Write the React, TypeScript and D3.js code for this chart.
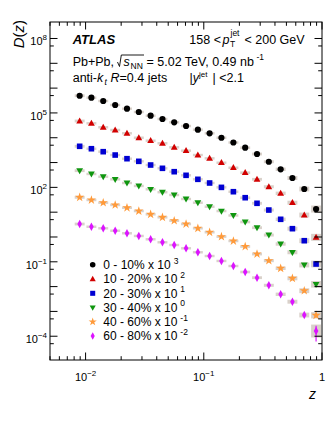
import React from "react";
import * as d3 from "d3";

// ---------- data ----------
const zValues = [0.00891, 0.0112, 0.0141, 0.0178, 0.0224, 0.0282, 0.0355, 0.0447, 0.0562, 0.0708, 0.0891, 0.112, 0.141, 0.178, 0.224, 0.282, 0.355, 0.447, 0.562, 0.708, 0.891];

const cent0to10 = [494, 411, 303, 209, 148, 109, 77.3, 56.9, 41.9, 29.7, 21.1, 15.1, 10.0, 6.43, 3.97, 2.21, 1.08, 0.535, 0.238, 0.0859, 0.0134];
const cent10to20 = [473, 382, 264, 205, 151, 100, 76.0, 59.7, 41.2, 30.1, 20.1, 14.8, 9.86, 6.19, 3.9, 2.11, 1.06, 0.577, 0.241, 0.0769, 0.0097];
const cent20to30 = [452, 361, 274, 201, 143, 112, 79.6, 58.6, 42.8, 30.6, 21.1, 15.0, 10.0, 6.68, 3.83, 2.28, 1.22, 0.516, 0.216, 0.0708, 0.00815];
const cent30to40 = [470, 346, 269, 211, 150, 114, 83.6, 63.8, 49.2, 34.0, 24.1, 16.6, 11.1, 7.35, 4.02, 2.37, 1.2, 0.521, 0.242, 0.0743, 0.0124];
const cent40to60 = [397, 310, 241, 195, 151, 111, 82.0, 62.1, 45.3, 33.3, 22.4, 15.5, 10.3, 6.89, 4.13, 2.06, 1.11, 0.547, 0.216, 0.0684, 0.00697];
const cent60to80 = [333, 259, 224, 179, 141, 110, 80.7, 61.1, 47.5, 35.0, 24.2, 17.1, 10.8, 6.76, 3.88, 2.29, 1.13, 0.49, 0.246, 0.0716, 0.0162];

const centralityLabels = ["0 - 10%", "10 - 20%", "20 - 30%", "30 - 40%", "40 - 60%", "60 - 80%"];
const scaleExponents = [3, 2, 1, 0, -1, -2];

// relative systematic uncertainty per z bin, and for the last bin of each series
const sysRel = [0.14, 0.12, 0.12, 0.12, 0.12, 0.12, 0.12, 0.12, 0.12, 0.12, 0.12, 0.12, 0.12, 0.12, 0.13, 0.14, 0.15, 0.17, 0.2, 0.25, 0.4];
const lastSysRel = [0.38, 0.38, 0.36, 0.36, 0.34, 0.82];
const lastStatRel = [0.06, 0.1, 0.12, 0.14, 0.18, 0.62];

const xTickLabels = [
  { v: 0.01, base: "10", exp: "\u22122" },
  { v: 0.1, base: "10", exp: "\u22121" },
  { v: 1, base: "1", exp: "" },
];
const yLabelExponents = [8, 5, 2, -1, -4];

// ---------- style ----------
const FONT = "'Liberation Sans', Arial, Helvetica, sans-serif";
const colors = ["#000000", "#d20000", "#0000d2", "#0f960f", "#ff9a3a", "#dc14ff"];
const shapes = ["circle", "triangle", "square", "triangleDown", "star", "diamond"];

const W = 332;
const H = 430;
const L = 50, R = 322, T = 22, B = 360;

function markerPath(shape: string, s: number): string {
  switch (shape) {
    case "circle":
      return d3.symbol(d3.symbolCircle, 30 * s * s)()!;
    case "triangle":
      return `M0,${-3.6 * s}L${3.4 * s},${2.4 * s}L${-3.4 * s},${2.4 * s}Z`;
    case "square":
      return `M${-2.8 * s},${-2.8 * s}H${2.8 * s}V${2.8 * s}H${-2.8 * s}Z`;
    case "triangleDown":
      return `M0,${3.6 * s}L${3.4 * s},${-2.4 * s}L${-3.4 * s},${-2.4 * s}Z`;
    case "star":
      return d3.symbol(d3.symbolStar, 26 * s * s)()!;
    case "diamond":
      return `M0,${-4.2 * s}L${2.3 * s},0L0,${4.2 * s}L${-2.3 * s},0Z`;
  }
  return "";
}

export default function App() {
  const series = [cent0to10, cent10to20, cent20to30, cent30to40, cent40to60, cent60to80];
  const x = d3.scaleLog().domain([0.005, 1]).range([L, R]);
  const y = d3.scaleLog().domain([Math.pow(10, -4.958), Math.pow(10, 8.665)]).range([B, T]);

  // tick values
  const yDecades = d3.range(-4, 9).map((e) => Math.pow(10, e));
  const yHalf = d3.range(-4, 9).map((e) => 5 * Math.pow(10, e - 1)).filter((v) => v >= y.domain()[0] && v <= y.domain()[1]);
  const xMajor = [0.01, 0.1, 1];
  const xMinor: number[] = [];
  [0.001, 0.01, 0.1].forEach((d) => {
    for (let k = 2; k <= 9; k++) {
      const v = k * d;
      if (v >= 0.005 && v < 1) xMinor.push(v);
    }
  });

  const tickStroke = { stroke: "#000", strokeWidth: 1 };
  const majLen = 7.5, minLen = 3.8;

  const halfBin = 0.042; // half box width, decades

  return (
    <svg width={W} height={H} style={{ position: "absolute", left: 0, top: 0, background: "#fff" }} fontFamily={FONT}>
      <rect x={0} y={0} width={W} height={H} fill="#fff" />

      {/* systematic boxes */}
      {series.map((vals, i) =>
        vals.map((v, j) => {
          const val = v * Math.pow(10, scaleExponents[i]);
          const r = j === vals.length - 1 ? lastSysRel[i] : sysRel[j];
          const z = zValues[j];
          const x0 = x(z * Math.pow(10, -halfBin));
          const x1 = x(z * Math.pow(10, halfBin));
          const y0 = y(val * (1 + r));
          const y1 = y(val / (1 + r));
          return (
            <rect key={`b${i}-${j}`} x={x0} y={y0} width={x1 - x0} height={y1 - y0} fill="#cfc6bd" fillOpacity={0.8} />
          );
        })
      )}

      {/* stat error bars on last bins */}
      {series.map((vals, i) => {
        const j = vals.length - 1;
        const val = vals[j] * Math.pow(10, scaleExponents[i]);
        const e = lastStatRel[i] * val;
        return (
          <line key={`e${i}`} x1={x(zValues[j])} x2={x(zValues[j])} y1={y(val + e)} y2={y(val - e)} stroke={colors[i]} strokeWidth={1.2} />
        );
      })}

      {/* markers */}
      {series.map((vals, i) =>
        vals.map((v, j) => (
          <path
            key={`m${i}-${j}`}
            d={markerPath(shapes[i], 1)}
            transform={`translate(${x(zValues[j])},${y(v * Math.pow(10, scaleExponents[i]))})`}
            fill={colors[i]}
          />
        ))
      )}

      {/* frame */}
      <rect x={L} y={T} width={R - L} height={B - T} fill="none" stroke="#000" strokeWidth={1} />

      {/* y ticks */}
      {yDecades.map((v) => (
        <g key={`yt${v}`}>
          <line x1={L} x2={L + majLen} y1={y(v)} y2={y(v)} {...tickStroke} />
          <line x1={R} x2={R - majLen} y1={y(v)} y2={y(v)} {...tickStroke} />
        </g>
      ))}
      {yHalf.map((v) => (
        <g key={`yh${v}`}>
          <line x1={L} x2={L + minLen} y1={y(v)} y2={y(v)} {...tickStroke} />
          <line x1={R} x2={R - minLen} y1={y(v)} y2={y(v)} {...tickStroke} />
        </g>
      ))}
      {/* x ticks */}
      {xMajor.map((v) => (
        <g key={`xt${v}`}>
          <line x1={x(v)} x2={x(v)} y1={B} y2={B - majLen} {...tickStroke} />
          <line x1={x(v)} x2={x(v)} y1={T} y2={T + majLen} {...tickStroke} />
        </g>
      ))}
      {xMinor.map((v) => (
        <g key={`xm${v}`}>
          <line x1={x(v)} x2={x(v)} y1={B} y2={B - minLen} {...tickStroke} />
          <line x1={x(v)} x2={x(v)} y1={T} y2={T + minLen} {...tickStroke} />
        </g>
      ))}

      {/* y tick labels */}
      {yLabelExponents.map((e) => {
        const yy = y(Math.pow(10, e)) + 6.8;
        const expStr = e < 0 ? `\u2212${-e}` : `${e}`;
        return (
          <text key={`yl${e}`} x={47} y={yy} textAnchor="end" fontSize={11} fill="#000">
            10
            <tspan fontSize={8} dy={-5}>{expStr}</tspan>
          </text>
        );
      })}
      {/* x tick labels */}
      {xTickLabels.map((t) => (
        <text key={`xl${t.v}`} x={x(t.v)} y={381} textAnchor="middle" fontSize={11} fill="#000">
          {t.base}
          {t.exp && <tspan fontSize={8} dy={-5}>{t.exp}</tspan>}
        </text>
      ))}

      {/* axis titles */}
      <text x={316} y={399} textAnchor="end" fontSize={14} fontStyle="italic">z</text>
      <text transform="translate(23.5,20) rotate(-90)" textAnchor="end" fontSize={15}>
        <tspan fontStyle="italic">D</tspan>(<tspan fontStyle="italic">z</tspan>)
      </text>

      {/* header */}
      <text x={72.7} y={43.5} fontSize={13} fontWeight="bold" fontStyle="italic">ATLAS</text>
      <text y={43.5} fontSize={12.5}>
        <tspan x={189.3}>158 &lt;</tspan>
        <tspan x={222.5} fontStyle="italic">p</tspan>
      </text>
      <text x={230} y={46.5} fontSize={8.5}>T</text>
      <text x={230.5} y={36} fontSize={8.5}>jet</text>
      <text x={244.5} y={43.5} fontSize={12.5}>&lt; 200 GeV</text>

      <text x={72.7} y={65.5} fontSize={12.5}>Pb+Pb,</text>
      <path d="M117.5,62 L119.5,66.5 L121.3,55 H144" fill="none" stroke="#000" strokeWidth={0.9} />
      <text x={123.5} y={65.5} fontSize={12.5} fontStyle="italic">s</text>
      <text x={130.5} y={68.5} fontSize={8.5}>NN</text>
      <text x={146.5} y={65.5} fontSize={12.5}>= 5.02 TeV, 0.49 nb</text>
      <text x={256.5} y={59.5} fontSize={8.5}>-1</text>

      <text x={72.7} y={81.5} fontSize={12.5}>
        anti-<tspan fontStyle="italic">k</tspan>
      </text>
      <text x={104.5} y={84.5} fontSize={8.5} fontStyle="italic">t</text>
      <text x={110.5} y={81.5} fontSize={12.5}>
        <tspan fontStyle="italic">R</tspan>=0.4 jets
      </text>
      <text x={189.5} y={81.5} fontSize={12.5}>
        |<tspan fontStyle="italic">y</tspan>
      </text>
      <text x={199} y={76.5} fontSize={8}>jet</text>
      <text x={212.5} y={81.5} fontSize={12.5}>| &lt;2.1</text>

      {/* legend */}
      {centralityLabels.map((lab, i) => {
        const yy = 264.8 + i * 14.25;
        const e = scaleExponents[i];
        const expStr = e < 0 ? `-${-e}` : `${e}`;
        return (
          <g key={`lg${i}`}>
            <path d={markerPath(shapes[i], 0.9)} transform={`translate(92.7,${yy})`} fill={colors[i]} />
            <text x={103.3} y={yy + 4.3} fontSize={12}>
              {lab} x 10
              <tspan fontSize={8.5} dx={3} dy={-5.5}>{expStr}</tspan>
            </text>
          </g>
        );
      })}
    </svg>
  );
}
